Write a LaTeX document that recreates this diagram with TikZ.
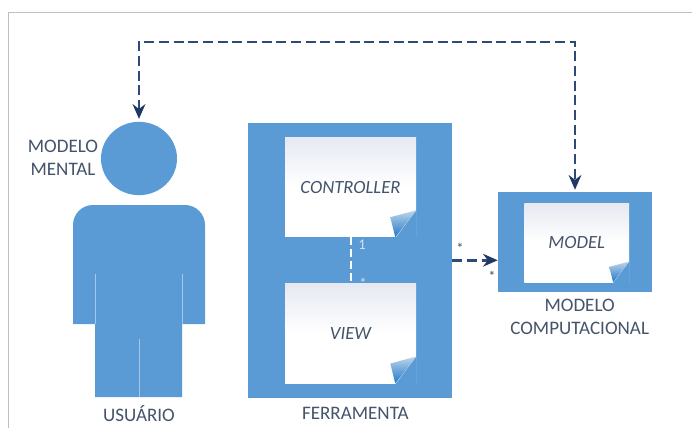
\documentclass[tikz,border=0pt]{standalone}
\usepackage{fontspec}
\setmainfont{Carlito}
\usepackage{tikz}
\usetikzlibrary{shapes.geometric, arrows.meta}
\definecolor{boxblue}{HTML}{5B9BD5}
\definecolor{inkblue}{HTML}{44546A}
\definecolor{linkblue}{HTML}{2F4A7A}
\definecolor{tipblue}{HTML}{1F3864}
\definecolor{framegrey}{HTML}{BFBFBF}
\definecolor{notegrey}{HTML}{E6E9F2}
\definecolor{curllight}{HTML}{BDD5EA}
\definecolor{curldark}{HTML}{1F78C8}
\tikzstyle{container} = [rectangle, inner sep=0pt, fill=boxblue]
\tikzstyle{note} = [rectangle, inner sep=0pt, top color=notegrey, bottom color=white, middle color=white, text=inkblue, font=\fontsize{14}{16}\selectfont\itshape]
\tikzstyle{caption} = [align=center, text=inkblue, font=\fontsize{14.3}{17.2}\selectfont]
\tikzstyle{mult} = [inner sep=0pt, font=\fontsize{11}{12}\selectfont]
\tikzstyle{seam} = [white!45!boxblue, line width=0.5pt]
\tikzstyle{link} = [line width=1.9pt, draw=linkblue, dash pattern=on 7.5pt off 3.5pt, >={Stealth[length=11pt,width=9.5pt,color=tipblue]}]
\newcommand{\notecurl}[2]{
    \begin{scope}[shift={(#1.south east)},scale=#2]
        \fill [boxblue] (0,-27) -- (0,1) -- (-21,1) -- cycle;
        \shade [top color=curllight, bottom color=curldark] (0,-27) -- (-26,-20) -- (-21,0) -- cycle;
    \end{scope}
}
\begin{document}
\begin{tikzpicture}[x=0.75pt,y=-0.75pt]
        \useasboundingbox (0,0) rectangle (692,428);
        \fill [white] (0,0) rectangle (692,428);
        \draw [framegrey, line width=0.75pt] (8.5,428) -- (8.5,12.5) -- (692,12.5);

        % person
        \node (head) [ellipse, inner sep=0pt, minimum width=57pt, minimum height=55pt, fill=boxblue] at (139,158.5) {};
        \fill [boxblue] (73,324) [rounded corners=15pt] -- (73,205) -- (205,205) [sharp corners] -- (205,324) -- (182,324) -- (182,397) -- (95,397) -- (95,324) -- cycle;
        \draw [seam] (95,274) -- (95,324);
        \draw [seam] (182,274) -- (182,324);
        \draw [seam] (139,339) -- (139,397);
        \node (mental) [caption] at (63,157.5) {MODELO\\MENTAL};
        \node (usuario) [caption] at (139,414) {USUÁRIO};

        % tool
        \node (ferramenta) [container, minimum width=153pt, minimum height=206.6pt] at (350,260.25) {};
        \node (controller) [note, minimum width=98.25pt, minimum height=74.6pt] at (350.5,187.25) {CONTROLLER};
        \node (view) [note, minimum width=98.25pt, minimum height=74.6pt, below of=controller, node distance=109.7pt] {VIEW};
        \notecurl{controller}{1}
        \notecurl{view}{1}
        \node (toolname) [caption, below of=ferramenta, node distance=115pt, xshift=4pt] {FERRAMENTA};

        % computational model
        \node (computacional) [container, minimum width=115.5pt, minimum height=75pt] at (575,242) {};
        \node (model) [note, minimum width=78.4pt, minimum height=59.25pt] at (576.75,242.5) {MODEL};
        \notecurl{model}{0.77}
        \node (modelname) [caption, below of=computacional, node distance=56.5pt, xshift=3.5pt] {MODELO\\COMPUTACIONAL};

        \coordinate (routeleft) at (139,42);
        \coordinate (routeright) at (575,42);

        \draw [link, <->, shorten <=2pt, shorten >=1.5pt] (head.north) -- (routeleft) -- (routeright) -- (computacional.north);
        \draw [link, ->] (ferramenta.east) -- (ferramenta.east -| computacional.west);
        \draw [white, line width=1.5pt, dash pattern=on 6pt off 3pt] (controller.south) -- (view.north);

        \node (cone) [mult, text=white!70!boxblue] at (362,245) {1};
        \node (cmany) [mult, text=white!70!boxblue] at (363,283) {*};
        \node (fmany) [mult, text=inkblue] at (460,248) {*};
        \node (mmany) [mult, text=inkblue] at (492,276) {*};
    \end{tikzpicture}
\end{document}
